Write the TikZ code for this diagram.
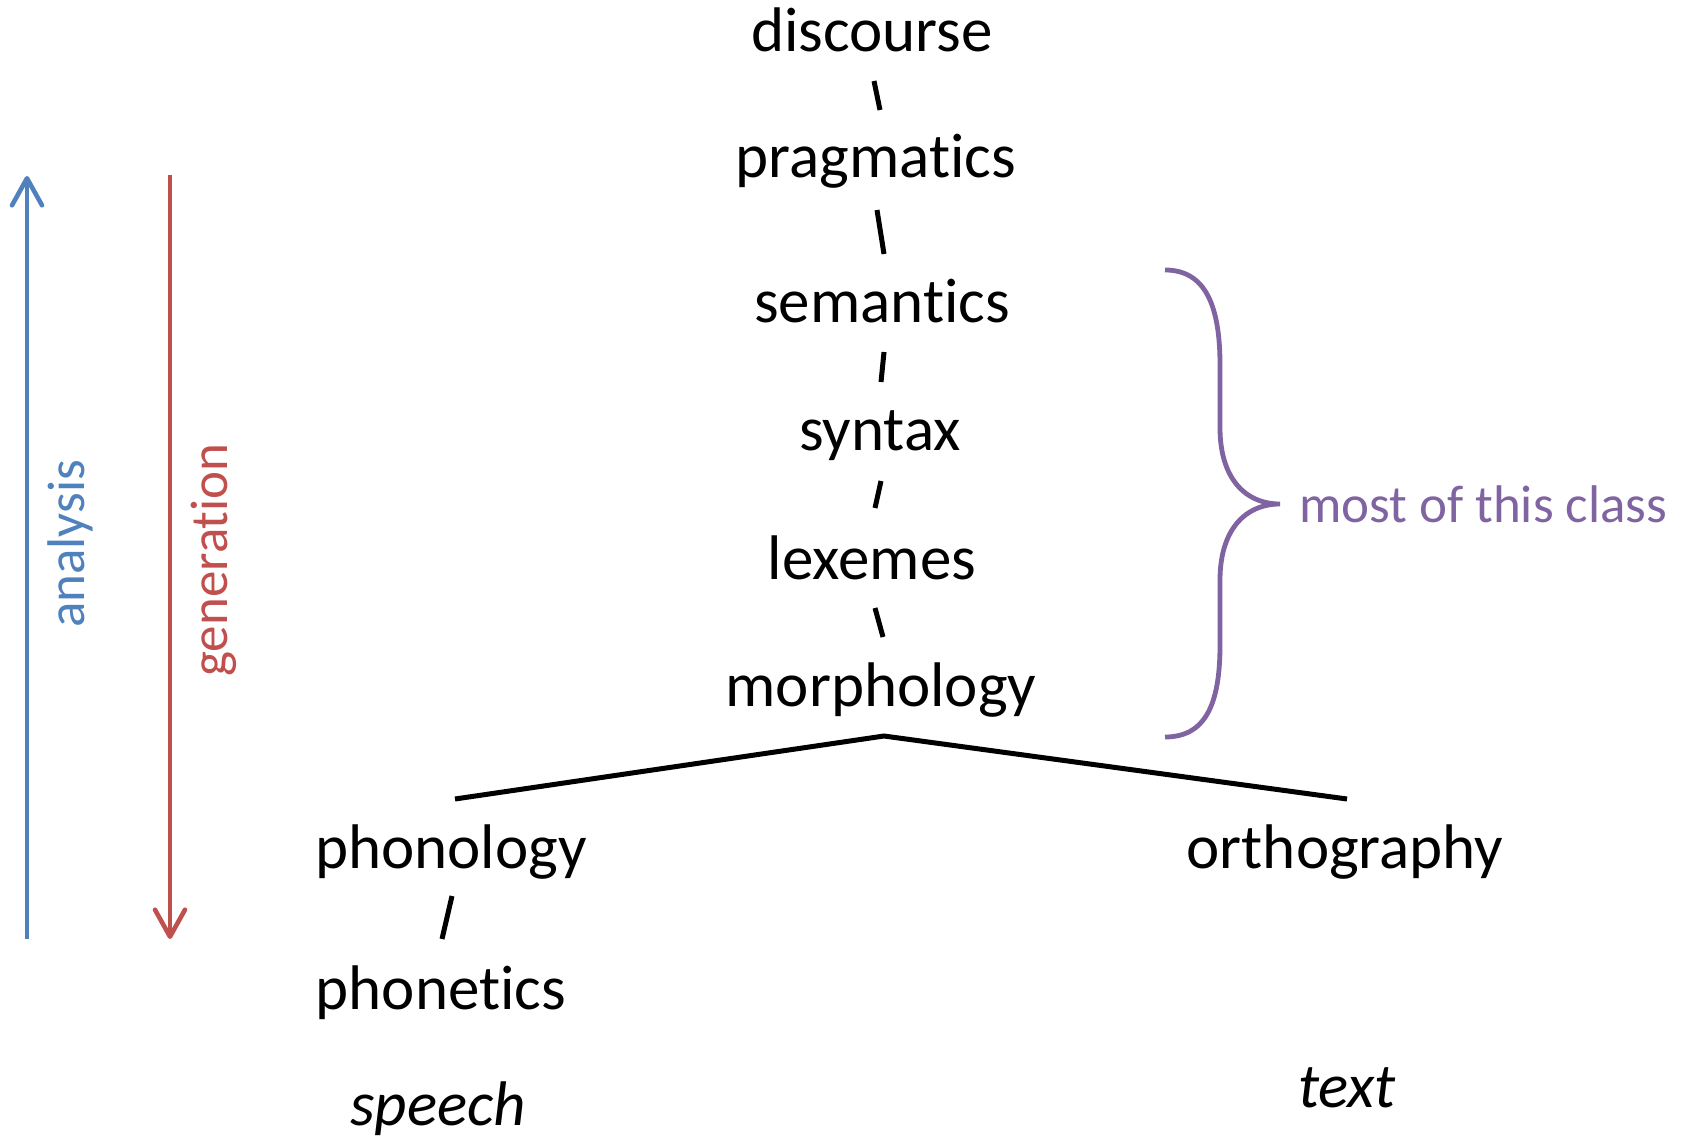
\documentclass[tikz,border=0pt]{standalone}
\usepackage{fontspec}
\setmainfont{Carlito}[Ligatures={NoCommon}]
\usetikzlibrary{arrows.meta}
\definecolor{ablue}{HTML}{4F81BD}
\definecolor{gred}{HTML}{C0504D}
\definecolor{bpurple}{HTML}{8064A2}
\begin{document}
\begin{tikzpicture}[x=1pt,y=-1pt,
  lvl/.style={inner sep=0pt, anchor=base, font=\fontsize{63}{75}\selectfont},
  side/.style={inner sep=0pt, font=\fontsize{53}{64}\selectfont},
  link/.style={line width=5pt},
  dirarrow/.style={line width=4.6pt, -{Straight Barb[length=27pt,width=30pt,round]}},
  bracestyle/.style={line width=4.8pt, draw=bpurple}]
\useasboundingbox (0,0) rectangle (1688,1139);
% levels
\node[lvl] (discourse)   at (872,52)   {discourse};
\node[lvl] (pragmatics)  at (876,178)  {pragmatics};
\node[lvl] (semantics)   at (882,323)  {semantics};
\node[lvl] (syntax)      at (880,450)  {syntax};
\node[lvl] (lexemes)     at (872,579)  {lexemes};
\node[lvl] (morphology)  at (881,706)  {morphology};
\node[lvl] (phonology)   at (451,868)  {phonology};
\node[lvl] (phonetics)   at (441,1009) {phonetics};
\node[lvl] (orthography) at (1345,868) {orthography};
\node[lvl] (speech)      at (438,1125) {\itshape speech};
\node[lvl] (textmode)    at (1347,1107){\itshape text};
% slash connectors
\coordinate (s1a) at (874,81);  \coordinate (s1b) at (880,110);
\coordinate (s2a) at (877,210); \coordinate (s2b) at (884,254);
\coordinate (s3a) at (884,352); \coordinate (s3b) at (881,382);
\coordinate (s4a) at (881,481); \coordinate (s4b) at (875,508);
\coordinate (s5a) at (875,608); \coordinate (s5b) at (883,637);
\coordinate (s6a) at (452,896); \coordinate (s6b) at (442,939);
\draw[link] (s1a) -- (s1b);
\draw[link] (s2a) -- (s2b);
\draw[link] (s3a) -- (s3b);
\draw[link] (s4a) -- (s4b);
\draw[link] (s5a) -- (s5b);
\draw[link] (s6a) -- (s6b);
% tree split
\coordinate (apex) at (884,736);
\coordinate (leftend) at (455,799);
\coordinate (rightend) at (1347,799);
\draw[link] (leftend) -- (apex) -- (rightend);
% brace
\coordinate (btop) at (1165,270);
\coordinate (btip) at (1280,504);
\coordinate (bbot) at (1165,737);
\draw[bracestyle] (btop) .. controls (1205,270) and (1220,305) .. (1220,365)
  -- (1220,428) .. controls (1220,478) and (1245,504) .. (btip)
  .. controls (1245,504) and (1220,530) .. (1220,580)
  -- (1220,645) .. controls (1220,705) and (1205,737) .. (bbot);
\node[side, anchor=base west, text=bpurple] (mostclass) at (1299,522) {most of this class};
% direction arrows
\coordinate (abot) at (27,939);
\coordinate (atop) at (27,176);
\draw[dirarrow, draw=ablue] (abot) -- (atop);
\node[side, rotate=90, text=ablue] (analysis) at (70,544) {analysis};
\coordinate (gtop) at (170,175);
\coordinate (gbot) at (170,939);
\draw[dirarrow, draw=gred] (gtop) -- (gbot);
\node[side, rotate=90, text=gred] (generation) at (214,560) {generation};
\end{tikzpicture}
\end{document}
